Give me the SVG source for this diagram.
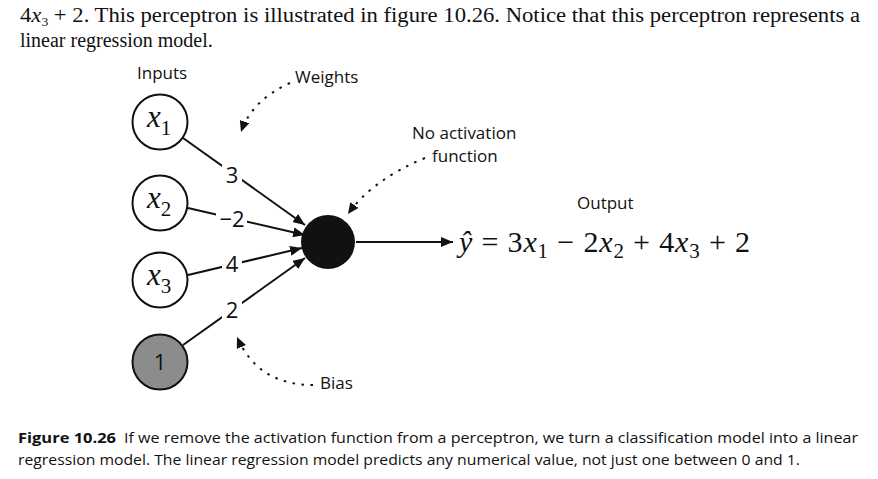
<svg xmlns="http://www.w3.org/2000/svg" width="878" height="479" viewBox="0 0 878 479">
<style>
.body{font-family:"Liberation Serif","Times New Roman",serif;font-size:20px;fill:#111}
.lab{font-family:"Open Sans","Liberation Sans",sans-serif;font-size:17px;fill:#111}
.w{font-family:"Open Sans","Liberation Sans",sans-serif;font-size:22px;fill:#111;text-anchor:middle}
.m{font-family:"Liberation Serif","Times New Roman",serif;fill:#111}
.it{font-style:italic}
.cap{font-family:"Open Sans","Liberation Sans",sans-serif;font-size:15px;fill:#111}
.edge{stroke:#111;stroke-width:2;fill:none}
.dot{stroke:#111;stroke-width:2;fill:none;stroke-dasharray:2.5 6.5}
</style>
<defs>
<marker id="ah" markerUnits="userSpaceOnUse" markerWidth="13" markerHeight="10" refX="12" refY="5" orient="auto"><path d="M0,0 L12,5 L0,10 z" fill="#111"/></marker>
<marker id="ahd" markerUnits="userSpaceOnUse" markerWidth="12" markerHeight="10" refX="11" refY="5" orient="auto"><path d="M0,0 L11,5 L0,10 z" fill="#111"/></marker>
</defs>
<rect width="878" height="479" fill="#fff"/>
<g id="body-text">
<text class="body" x="20" y="22" textLength="840" lengthAdjust="spacingAndGlyphs">4<tspan class="it">x</tspan><tspan font-size="12" dy="4">3</tspan><tspan dy="-4"> + 2. This perceptron is illustrated in figure 10.26. Notice that this perceptron represents a</tspan></text>
<text class="body" x="20" y="47">linear regression model.</text>
</g>
<g id="connectors">
<line class="edge" x1="183" y1="138" x2="305" y2="225" marker-end="url(#ah)"/>
<line class="edge" x1="188" y1="208" x2="305" y2="235" marker-end="url(#ah)"/>
<line class="edge" x1="188" y1="275" x2="302" y2="248" marker-end="url(#ah)"/>
<line class="edge" x1="183" y1="345" x2="305" y2="258" marker-end="url(#ah)"/>
<line class="edge" x1="356" y1="242" x2="453" y2="242" marker-end="url(#ah)"/>
<path class="dot" d="M290 83 Q252 100 241 132" marker-end="url(#ahd)"/>
<path class="dot" d="M425 158 Q372 180 348 214" marker-end="url(#ahd)"/>
<path class="dot" d="M313 385 Q258 385 237 337" marker-end="url(#ahd)"/>
</g>
<g id="weights">
<rect x="222" y="163" width="20" height="23" fill="#fff"/>
<text class="w" x="232" y="183">3</text>
<rect x="216" y="208" width="31" height="22" fill="#fff"/>
<text class="w" x="232" y="227">−2</text>
<rect x="222" y="252" width="20" height="23" fill="#fff"/>
<text class="w" x="232" y="272">4</text>
<rect x="222" y="298" width="20" height="23" fill="#fff"/>
<text class="w" x="232" y="318">2</text>
</g>
<g id="node-x1">
<circle cx="160" cy="122" r="27.5" fill="#fff" stroke="#111" stroke-width="2"/>
<text class="m" x="147" y="127" font-size="31"><tspan class="it">x</tspan><tspan font-size="21" dy="8">1</tspan></text>
</g>
<g id="node-x2">
<circle cx="160" cy="203" r="27.5" fill="#fff" stroke="#111" stroke-width="2"/>
<text class="m" x="147" y="208" font-size="31"><tspan class="it">x</tspan><tspan font-size="21" dy="8">2</tspan></text>
</g>
<g id="node-x3">
<circle cx="160" cy="280" r="27.5" fill="#fff" stroke="#111" stroke-width="2"/>
<text class="m" x="147" y="285" font-size="31"><tspan class="it">x</tspan><tspan font-size="21" dy="8">3</tspan></text>
</g>
<g id="node-bias">
<circle cx="160" cy="362" r="27.5" fill="#8c8c8c" stroke="#111" stroke-width="2"/>
<text class="w" x="160" y="370">1</text>
</g>
<g id="node-neuron">
<circle cx="328" cy="242" r="27" fill="#111"/>
</g>
<g id="labels">
<text class="lab" x="137" y="79">Inputs</text>
<text class="lab" x="295" y="83">Weights</text>
<text class="lab" x="412" y="139">No activation</text>
<text class="lab" x="432" y="162">function</text>
<text class="lab" x="577" y="209">Output</text>
<text class="lab" x="320" y="389">Bias</text>
</g>
<g id="output-eq">
<text class="m" x="459" y="252" font-size="30" textLength="291" lengthAdjust="spacing"><tspan class="it">ŷ</tspan> = 3<tspan class="it">x</tspan><tspan font-size="21" dy="6">1</tspan><tspan dy="-6"> − 2</tspan><tspan class="it">x</tspan><tspan font-size="21" dy="6">2</tspan><tspan dy="-6"> + 4</tspan><tspan class="it">x</tspan><tspan font-size="21" dy="6">3</tspan><tspan dy="-6"> + 2</tspan></text>
</g>
<g id="caption">
<text class="cap" x="18" y="443" font-weight="bold" textLength="98" lengthAdjust="spacingAndGlyphs">Figure 10.26</text>
<text class="cap" x="124" y="443" textLength="734" lengthAdjust="spacingAndGlyphs">If we remove the activation function from a perceptron, we turn a classification model into a linear</text>
<text class="cap" x="18" y="465" textLength="782" lengthAdjust="spacingAndGlyphs">regression model. The linear regression model predicts any numerical value, not just one between 0 and 1.</text>
</g>
</svg>
